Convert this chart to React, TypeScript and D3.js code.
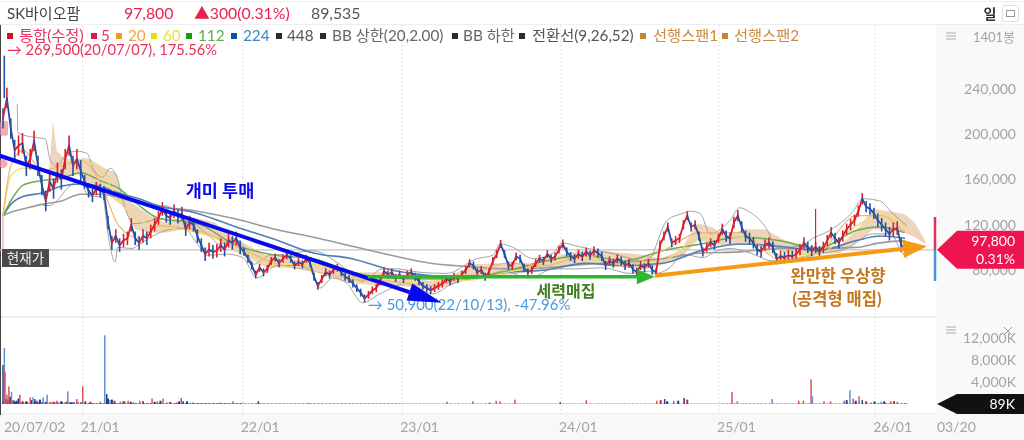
/**
 * SK바이오팜 daily chart with moving averages, bollinger bands, cloud and volume.
 */
import * as d3 from 'd3';
import { useEffect, useRef } from 'react';

// prices are in thousands of won, one close every 6 sessions
const SAMPLE_STEP = 6;
const closes = [
  214, 232, 205, 186, 190, 192, 172, 178, 194, 172,
  155, 141, 158, 152, 166, 160, 178, 190, 172, 178,
  168, 158, 150, 146, 152, 150, 148, 122, 104, 110,
  102, 106, 108, 120, 108, 104, 110, 108, 114, 120,
  126, 134, 128, 126, 132, 127, 130, 116, 122, 120,
  110, 102, 94, 98, 96, 97, 102, 98, 106, 104,
  108, 100, 96, 90, 84, 76, 82, 78, 81, 88,
  91, 86, 90, 93, 90, 84, 87, 85, 90, 86,
  74, 66, 72, 78, 76, 80, 82, 78, 74, 72,
  68, 64, 60, 55, 58, 62, 64, 70, 79, 76,
  78, 73, 76, 72, 76, 78, 74, 70, 66, 64,
  62, 64, 66, 68, 72, 70, 74, 72, 76, 80,
  86, 84, 78, 80, 74, 78, 88, 94, 103, 94,
  84, 84, 92, 90, 82, 78, 80, 86, 90, 88,
  94, 90, 92, 98, 103, 96, 92, 90, 94, 92,
  96, 93, 97, 95, 92, 84, 88, 86, 90, 88,
  84, 86, 81, 78, 84, 82, 86, 80, 78, 102,
  110, 118, 104, 106, 108, 120, 128, 118, 120, 110,
  96, 100, 104, 102, 108, 116, 110, 108, 122, 128,
  118, 110, 108, 104, 98, 96, 102, 104, 100, 90,
  92, 91, 93, 92, 94, 98, 104, 100, 97, 100,
  96, 100, 106, 113, 108, 104, 110, 116, 120, 124,
  132, 143, 136, 134, 130, 124, 120, 116, 112, 116, 117, 102, 97.8,
];
const listingHighBar = 2;
const listingHigh = 269.5;
const currentPrice = 97.8;
// typical high-low half range per calendar year
const sessionRange = [9, 6, 3.5, 3.5, 4, 5, 6];
const spikeBar = 1254;
const spikeHigh = 134;

// moving averages share these sessions
const maBars = [0, 12, 31, 60, 90, 120, 150, 179, 210, 239, 300, 360, 420, 479, 539, 599, 660, 719, 777, 838, 898, 958, 1018, 1077, 1137, 1197, 1257, 1317, 1353, 1392];
const ma20 = [128, 172, 186, 168, 172, 177, 157, 119, 108, 119, 115, 101, 86, 79, 72, 70, 66, 75, 86, 84, 93, 84, 97, 113, 113, 90, 95, 128, 128, 113];
const ma60 = [128, 163, 170, 168, 172, 177, 168, 141, 124, 119, 113, 101, 85, 85, 73, 68, 70, 71, 78, 84, 90, 85, 88, 108, 109, 93, 94, 119, 129, 119];
const ma112 = [128, 141, 155, 159, 161, 166, 159, 152, 137, 126, 121, 102, 93, 90, 78, 73, 72, 73, 79, 88, 93, 88, 97, 103, 109, 106, 99, 115, 118, 113];
const ma224 = [128, 138, 145, 148, 154, 156, 154, 148, 143, 137, 130, 118, 107, 95, 90, 80, 75, 72, 78, 80, 86, 84, 86, 97, 103, 101, 97, 106, 110, 108];
const ma448 = [128, 131, 134, 138, 141, 147, 147, 144, 139, 136, 132, 125, 116, 109, 101, 93, 86, 83, 81, 82, 85, 87, 90, 95, 96, 99, 99, 100, 104, 106];

const bbUpperBars = [22, 23, 52, 65, 73, 83, 99, 114, 130, 139, 154, 165, 176, 184, 201, 238, 250, 268, 293, 315, 335, 355, 376, 386, 412, 438, 478, 520, 555, 586, 608, 643, 685, 731, 756, 767, 787, 818, 849, 863, 886, 937, 994, 1025, 1049, 1060, 1076, 1091, 1122, 1137, 1153, 1179, 1194, 1230, 1250, 1276, 1312, 1327, 1353, 1373, 1395];
const bbUpper = [227, 201, 197, 196, 177, 172, 183, 185, 183, 170, 162, 170, 162, 144, 121, 126, 137, 131, 122, 112, 103, 108, 97, 85, 93, 94, 97, 85, 70, 81, 81, 78, 77, 90, 93, 103, 100, 90, 95, 104, 101, 95, 88, 124, 130, 132, 130, 112, 124, 135, 131, 116, 100, 101, 108, 115, 132, 143, 141, 130, 119];
const bbLowerBars = [62, 73, 83, 99, 119, 131, 154, 162, 173, 177, 199, 211, 238, 258, 278, 304, 315, 346, 370, 392, 423, 458, 478, 489, 509, 531, 555, 582, 623, 663, 694, 747, 771, 813, 849, 886, 926, 967, 998, 1006, 1029, 1049, 1080, 1102, 1122, 1153, 1188, 1225, 1265, 1302, 1342, 1369, 1389, 1396];
const bbLower = [137, 137, 141, 152, 159, 146, 144, 112, 87, 100, 99, 103, 112, 116, 117, 100, 93, 94, 91, 73, 84, 84, 77, 64, 73, 68, 51, 59, 68, 59, 68, 75, 79, 73, 81, 81, 82, 77, 79, 77, 82, 94, 91, 97, 99, 95, 88, 90, 95, 99, 112, 112, 94, 90];

// cloud runs past the last session
const cloudBars = [69, 77, 83, 96, 111, 127, 137, 157, 174, 184, 204, 227, 250, 281, 299, 327, 355, 381, 407, 443, 485, 528, 582, 613, 659, 690, 728, 767, 813, 860, 890, 921, 960, 994, 1014, 1045, 1071, 1094, 1114, 1145, 1176, 1207, 1245, 1292, 1322, 1343, 1369, 1392, 1407, 1423];
const cloudTop = [150, 212, 185, 178, 178, 179, 177, 170, 166, 146, 137, 128, 122, 128, 126, 122, 108, 101, 93, 90, 86, 78, 78, 75, 70, 75, 85, 86, 86, 93, 97, 97, 95, 93, 90, 97, 121, 118, 110, 116, 116, 106, 101, 101, 119, 134, 132, 129, 122, 106];
const cloudBottom = [150, 168, 163, 161, 166, 159, 153, 150, 141, 137, 116, 113, 113, 116, 113, 108, 97, 90, 82, 82, 79, 69, 66, 66, 62, 66, 75, 75, 78, 81, 86, 84, 82, 81, 84, 90, 106, 104, 101, 103, 103, 95, 93, 95, 106, 116, 115, 113, 109, 103];

// volume in K shares
const volPeakBars = [0, 2, 3, 6, 9, 13, 18, 26, 42, 46, 49, 62, 68, 73, 83, 99, 100, 114, 123, 127, 150, 157, 160, 165, 181, 188, 193, 201, 211, 230, 238, 247, 253, 268, 275, 278, 293, 335, 355, 394, 471, 685, 725, 751, 761, 767, 790, 860, 900, 1009, 1021, 1035, 1051, 1125, 1133, 1187, 1228, 1235, 1247, 1249, 1267, 1277, 1298, 1307, 1312, 1321, 1326, 1340, 1355, 1370, 1380];
const volPeaks = [7100, 10200, 5900, 1700, 3200, 2200, 500, 1700, 1200, 1200, 900, 1200, 1700, 300, 600, 500, 2300, 900, 3200, 500, 400, 12500, 1800, 700, 400, 500, 600, 300, 600, 1000, 500, 1000, 300, 300, 1100, 500, 300, 300, 500, 500, 200, 400, 500, 300, 600, 500, 800, 300, 700, 600, 900, 600, 1100, 2200, 500, 900, 600, 600, 4500, 1400, 500, 500, 600, 2500, 1000, 1400, 700, 300, 400, 500, 400];
const volPeakKinds = 'dbrrrbdrrbdbbrrdbrrdrbdbrrrrbrrrbrrdrrrdbrrrrrrdrrdrdrbbrrrbrrrbrrdbbrr'.split('');
const smallVolBars = [5, 8, 11, 16, 21, 24, 30, 36, 44, 52, 57, 66, 78, 90, 105, 135, 162, 168, 172, 186, 197, 216, 234, 243, 258, 272, 284, 1015, 1025, 1042, 1056, 1302, 1316, 1332, 1345, 1360, 1375];
const smallVol = [900, 800, 1300, 700, 600, 1000, 500, 500, 700, 600, 800, 400, 400, 500, 300, 400, 1000, 800, 600, 500, 400, 500, 400, 600, 400, 500, 500, 700, 500, 600, 800, 700, 600, 500, 450, 500, 500];
const quietVolume = [320, 180, 110, 80, 70, 90, 130];
const currentVolume = '89K';

const yearTicks = ['21/01', '22/01', '23/01', '24/01', '25/01', '26/01'];
const yearTickBars = [123, 370, 616, 861, 1105, 1346];
const priceTicks = [80, 120, 160, 200, 240];
const volumeTicks = [4000, 8000, 12000];

const legendLabels = ['통합(수정)', '5', '20', '60', '112', '224', '448', 'BB 상한(20,2.00)', 'BB 하한', '전환선(9,26,52)', '선행스팬1', '선행스팬2'];
const legendSquares = ['#d40f1c', '#e6134e', '#f59a12', '#e2e000', '#1f9a12', '#0a50ac', '#2b2b2b', '#2b2b2b', '#2b2b2b', '#2b2b2b', '#c98632', '#c98632'];
const legendTexts = ['#e8325a', '#e8325a', '#f5a53a', '#e4e14a', '#58b043', '#3f82c8', '#555555', '#666666', '#666666', '#555555', '#cb8a3c', '#cb8a3c'];
const legendSquareX = [7, 91, 116, 151, 186, 231, 276, 320, 452, 519, 640, 722];
const legendTextX = [19, 101, 128, 163, 198, 243, 287, 332, 463, 532, 653, 734];

const FONT = 'Lato, "Noto Sans CJK KR", sans-serif';
const UP = '#d8202f';
const DOWN = '#2450a8';
const LIGHT_DOWN = '#5f93d0';

export default function App() {
  const svgRef = useRef<SVGSVGElement>(null);

  useEffect(() => {
    if (!svgRef.current) return;
    const svg = d3.select(svgRef.current);
    svg.selectAll('*').remove();
    svg.style('font-family', FONT);

    const x = d3.scaleLinear().domain([0, 1392]).range([3, 905]);
    const y = d3.scaleLinear().domain([80, 240]).range([270, 89]);
    const v = d3.scaleLinear().domain([0, 12000]).range([404, 338]);

    // panes
    svg.append('rect').attr('width', 1024).attr('height', 440).attr('fill', '#fff');
    svg.append('rect').attr('x', 936).attr('y', 25).attr('width', 88).attr('height', 415).attr('fill', '#f9f9f9');
    svg.append('rect').attr('x', 0).attr('y', 414).attr('width', 1024).attr('height', 26).attr('fill', '#f8f8f8');
    svg.append('rect').attr('x', 0).attr('y', 1).attr('width', 1024).attr('height', 1).attr('fill', '#eeeeee');
    svg.append('rect').attr('x', 0).attr('y', 24).attr('width', 1024).attr('height', 1).attr('fill', '#eeeeee');
    svg.append('rect').attr('x', 0).attr('y', 316).attr('width', 936).attr('height', 2).attr('fill', '#eeeeee');
    svg.append('rect').attr('x', 0).attr('y', 413).attr('width', 936).attr('height', 1).attr('fill', '#eeeeee');
    svg.append('rect').attr('x', 0).attr('y', 25).attr('width', 1).attr('height', 390).attr('fill', '#444');

    // year grid
    svg.append('g')
      .selectAll('line')
      .data(yearTickBars)
      .join('line')
      .attr('x1', (d) => x(d))
      .attr('x2', (d) => x(d))
      .attr('y1', 25)
      .attr('y2', 414)
      .attr('stroke', '#d8d8d8')
      .attr('stroke-dasharray', '1.5,2.5');

    // current price line
    svg.append('line')
      .attr('x1', 0)
      .attr('x2', 936)
      .attr('y1', y(currentPrice))
      .attr('y2', y(currentPrice))
      .attr('stroke', '#c4c4c4')
      .attr('stroke-width', 1.2);

    // cloud
    const cloudArea = d3
      .area<number>()
      .x((d) => x(d))
      .y0((_, i) => y(cloudBottom[i]))
      .y1((_, i) => y(cloudTop[i]));
    svg.append('path').attr('d', cloudArea(cloudBars)).attr('fill', '#e8c7a2').attr('opacity', 0.75);

    const drawLine = (bars: number[], values: number[], color: string, width: number) => {
      const line = d3
        .line<number>()
        .x((d) => x(d))
        .y((_, i) => y(values[i]))
        .curve(d3.curveMonotoneX);
      svg.append('path')
        .attr('d', line(bars))
        .attr('fill', 'none')
        .attr('stroke', color)
        .attr('stroke-width', width);
    };

    // bollinger, then averages
    drawLine(bbUpperBars, bbUpper, '#9a9a9a', 0.9);
    drawLine(bbLowerBars, bbLower, '#9a9a9a', 0.9);
    drawLine(maBars, ma448, '#9b9b9b', 1.6);
    drawLine(maBars, ma224, '#4f80b8', 1.6);
    drawLine(maBars, ma112, '#6fab50', 1.5);
    drawLine(maBars, ma60, '#e8e06a', 1.2);
    drawLine(maBars, ma20, '#f2b672', 1.2);

    // start of listing markers
    svg.append('line')
      .attr('x1', x(0))
      .attr('x2', x(0))
      .attr('y1', y(128))
      .attr('y2', y(currentPrice))
      .attr('stroke', '#f0a0a8')
      .attr('stroke-width', 1.2);
    svg.append('rect').attr('x', 0).attr('y', y(212)).attr('width', 8).attr('height', 15).attr('rx', 2).attr('fill', '#f08a9a').attr('opacity', 0.7);
    svg.append('circle').attr('cx', x(0)).attr('cy', y(174)).attr('r', 4.5).attr('fill', '#f08a9a').attr('opacity', 0.7);

    // price
    const isUp = (d: number, i: number) => i > 0 && d >= closes[i - 1];
    svg.append('line')
      .attr('x1', x(listingHighBar))
      .attr('x2', x(listingHighBar))
      .attr('y1', y(listingHigh))
      .attr('y2', y(closes[1]))
      .attr('stroke', DOWN)
      .attr('stroke-width', 1.6);
    svg.append('line')
      .attr('x1', x(spikeBar))
      .attr('x2', x(spikeBar))
      .attr('y1', y(spikeHigh))
      .attr('y2', y(96))
      .attr('stroke', UP)
      .attr('stroke-width', 1.2);
    svg.append('g')
      .selectAll('line')
      .data(closes)
      .join('line')
      .attr('x1', (_, i) => x(i * SAMPLE_STEP))
      .attr('x2', (_, i) => x(i * SAMPLE_STEP))
      .attr('y1', (d, i) => y(d + sessionRange[d3.bisect(yearTickBars, i * SAMPLE_STEP)]))
      .attr('y2', (d, i) => y(d - sessionRange[d3.bisect(yearTickBars, i * SAMPLE_STEP)]))
      .attr('stroke', (d, i) => (isUp(d, i) ? UP : DOWN))
      .attr('stroke-width', 1.6);
    svg.append('g')
      .selectAll('line')
      .data(closes.slice(1))
      .join('line')
      .attr('x1', (_, i) => x(i * SAMPLE_STEP))
      .attr('x2', (_, i) => x((i + 1) * SAMPLE_STEP))
      .attr('y1', (_, i) => y(closes[i]))
      .attr('y2', (d) => y(d))
      .attr('stroke', (d, i) => (d >= closes[i] ? UP : DOWN))
      .attr('stroke-width', 1.8)
      .attr('stroke-linecap', 'round');

    // arrows drawn on the chart
    const arrow = (x1: number, p1: number, x2: number, p2: number, color: string, width: number, headL: number, headW: number) => {
      const ax = x(x1);
      const ay = y(p1);
      const bx = x(x2);
      const by = y(p2);
      const a = Math.atan2(by - ay, bx - ax);
      const cx = bx - headL * Math.cos(a);
      const cy = by - headL * Math.sin(a);
      svg.append('line')
        .attr('x1', ax)
        .attr('y1', ay)
        .attr('x2', cx)
        .attr('y2', cy)
        .attr('stroke', color)
        .attr('stroke-width', width);
      const px = (headW / 2) * Math.sin(a);
      const py = (headW / 2) * Math.cos(a);
      svg.append('path')
        .attr('d', `M${bx},${by}L${cx + px},${cy - py}L${cx - px},${cy + py}Z`)
        .attr('fill', color);
    };

    const text = (s: string, tx: number, ty: number, size: number, fill: string, extra?: { anchor?: string; weight?: string }) =>
      svg.append('text')
        .attr('x', tx)
        .attr('y', ty)
        .attr('font-size', size)
        .attr('fill', fill)
        .attr('text-anchor', extra?.anchor ?? 'start')
        .attr('font-weight', extra?.weight ?? 'normal')
        .text(s);

    text('→ 50,900(22/10/13), -47.96%', x(563), 310, 15, '#4a9ae0');
    arrow(-5, 181, 677, 51, '#0808f0', 4, 34, 18);
    arrow(563, 74, 1006, 74, '#2cb82c', 3.5, 18, 15);
    arrow(1006, 75, 1426, 101, '#f59a12', 4, 24, 18);

    text('개미 투매', 220, 197, 17.5, '#0a0af0', { anchor: 'middle', weight: 'bold' });
    text('세력매집', 566, 297, 16, '#3f7f20', { anchor: 'middle', weight: 'bold' });
    text('완만한 우상향', 838, 282, 16.5, '#c4761c', { anchor: 'middle', weight: 'bold' });
    text('(공격형 매집)', 837, 305, 16.5, '#c4761c', { anchor: 'middle', weight: 'bold' });

    // current price tag on the left
    svg.append('rect').attr('x', 2).attr('y', 249).attr('width', 47).attr('height', 18).attr('fill', '#4a4a4a');
    text('현재가', 25.5, 263, 13.5, '#eeeeee', { anchor: 'middle' });

    // volume
    const volume = svg.append('g');
    volume
      .selectAll('rect.quiet')
      .data(closes)
      .join('rect')
      .attr('class', 'quiet')
      .attr('x', (_, i) => x(i * SAMPLE_STEP) - 1)
      .attr('width', 3)
      .attr('y', (_, i) => v(quietVolume[d3.bisect(yearTickBars, i * SAMPLE_STEP)]))
      .attr('height', (_, i) => v(0) - v(quietVolume[d3.bisect(yearTickBars, i * SAMPLE_STEP)]))
      .attr('fill', (d, i) => (isUp(d, i) ? '#e04a55' : '#3a6cc0'));
    volume
      .selectAll('rect.small')
      .data(smallVol)
      .join('rect')
      .attr('class', 'small')
      .attr('x', (_, i) => x(smallVolBars[i]) - 1)
      .attr('width', 2)
      .attr('y', (d) => v(d))
      .attr('height', (d) => v(0) - v(d))
      .attr('fill', (_, i) => (i % 3 === 0 ? UP : '#1c3f90'));
    volume
      .selectAll('rect.peak')
      .data(volPeaks)
      .join('rect')
      .attr('class', 'peak')
      .attr('x', (_, i) => x(volPeakBars[i]) - 0.7)
      .attr('width', 1.5)
      .attr('y', (d) => v(d))
      .attr('height', (d) => v(0) - v(d))
      .attr('fill', (_, i) => (volPeakKinds[i] === 'r' ? '#e0505c' : volPeakKinds[i] === 'b' ? LIGHT_DOWN : '#1c3f90'));

    // right axes
    const priceAxis = svg
      .append('g')
      .attr('transform', 'translate(1016,0)')
      .call(d3.axisLeft(y).tickValues(priceTicks).tickSize(0).tickFormat((d) => d3.format(',')(+d * 1000)));
    const volumeAxis = svg
      .append('g')
      .attr('transform', 'translate(1016,0)')
      .call(d3.axisLeft(v).tickValues(volumeTicks).tickSize(0).tickFormat((d) => `${d3.format(',')(+d)}K`));
    [priceAxis, volumeAxis].forEach((axis) => {
      axis.select('.domain').remove();
      axis.selectAll('.tick text').attr('x', 0).style('fill', '#a3a3a3').style('font-size', '14px').style('font-family', FONT);
    });

    // date axis
    text('20/07/02', 4, 432, 14, '#a3a3a3');
    svg.append('g')
      .selectAll('text')
      .data(yearTicks)
      .join('text')
      .attr('x', (_, i) => x(yearTickBars[i]) - 2)
      .attr('y', 432)
      .attr('font-size', 14)
      .attr('fill', '#a3a3a3')
      .text((d) => d);
    text('03/20', 937, 432, 14, '#a3a3a3');

    // price marker
    const yNow = y(currentPrice);
    svg.append('line').attr('x1', 935).attr('x2', 935).attr('y1', 217).attr('y2', yNow).attr('stroke', '#e0305a').attr('stroke-width', 2.5);
    svg.append('line').attr('x1', 935).attr('x2', 935).attr('y1', yNow).attr('y2', 281).attr('stroke', '#4a94dc').attr('stroke-width', 2.5);
    svg.append('path')
      .attr('d', `M937,${yNow}L957,${yNow - 19}H1024V${yNow + 19}H957Z`)
      .attr('fill', '#ee1450');
    text('97,800', 1015, yNow - 4, 14, '#ffffff', { anchor: 'end' });
    text('0.31%', 1015, yNow + 14, 14, '#ffffff', { anchor: 'end' });

    // volume marker
    const yVol = 404;
    svg.append('path')
      .attr('d', `M937,${yVol}L957,${yVol - 10}H1024V${yVol + 10}H957Z`)
      .attr('fill', '#111');
    text(currentVolume, 1015, yVol + 5, 14, '#ffffff', { anchor: 'end' });

    // menu icons
    [36, 330].forEach((cy) => {
      [-3, 0, 3].forEach((dy) => {
        svg.append('line').attr('x1', 946).attr('x2', 956).attr('y1', cy + dy).attr('y2', cy + dy).attr('stroke', '#aaa');
      });
    });
    svg.append('path').attr('d', 'M1004,327L1012,335M1012,327L1004,335').attr('stroke', '#999').attr('fill', 'none');
    text('1401봉', 1015, 42, 13, '#a3a3a3', { anchor: 'end' });

    // header
    text('SK바이오팜', 7, 19, 15, '#444444');
    text('97,800', 124, 19, 15.8, '#e8204f');
    text('▲300(0.31%)', 194, 19, 15.8, '#e8204f');
    text('89,535', 311, 19, 15.8, '#555555');
    text('일', 990, 19, 14, '#333333', { anchor: 'middle', weight: 'bold' });
    svg.append('rect').attr('x', 1002.5).attr('y', 5.5).attr('width', 16).attr('height', 16).attr('rx', 2).attr('fill', '#fff').attr('stroke', '#dddddd');
    svg.append('rect').attr('x', 1006.5).attr('y', 10.5).attr('width', 8).attr('height', 6).attr('fill', 'none').attr('stroke', '#999');

    // legend
    legendLabels.forEach((label, i) => {
      svg.append('rect').attr('x', legendSquareX[i]).attr('y', 33).attr('width', 6).attr('height', 6).attr('fill', legendSquares[i]);
      text(label, legendTextX[i], 41, 15.3, legendTexts[i]);
    });
    text('→ 269,500(20/07/07), 175.56%', 7, 55, 14.7, '#e8305a');
  }, []);

  return <svg ref={svgRef} width={1024} height={440} style={{ position: 'fixed', left: 0, top: 0, filter: 'blur(0.4px)' }} />;
}
